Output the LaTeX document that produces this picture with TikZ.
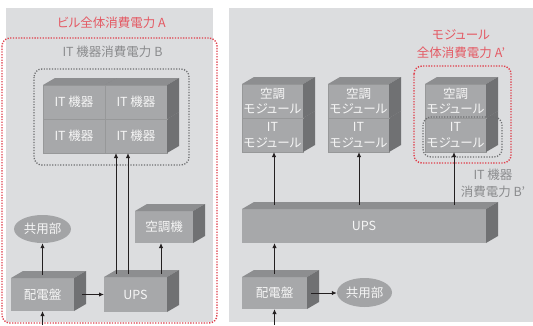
\documentclass[tikz,border=0pt]{standalone}
\usepackage{fontspec}
\setmainfont{Noto Sans CJK JP}[RawFeature=+palt]
\usetikzlibrary{arrows.meta,shapes.geometric}
\definecolor{panelc}{HTML}{DCDDDF}
\definecolor{frontc}{HTML}{A7A8AA}
\definecolor{topc}{HTML}{8D8E90}
\definecolor{sidec}{HTML}{707173}
\definecolor{ellc}{HTML}{A3A4A6}
\definecolor{sepc}{HTML}{979899}
\definecolor{boxtext}{HTML}{F6F6F6}
\definecolor{graytxt}{HTML}{8A8B8D}
\definecolor{redtxt}{HTML}{E45A64}
\definecolor{reddot}{HTML}{E0404C}
\definecolor{graydot}{HTML}{6E6F71}
\definecolor{arrowc}{HTML}{231F20}
\newcommand\cubefaces[1]{%
  \fill[topc] (#1.north west) -- ([shift={(12,-7)}]#1.north west) -- ([shift={(12,-7)}]#1.north east) -- (#1.north east) -- cycle;
  \fill[sidec] (#1.north east) -- ([shift={(12,-7)}]#1.north east) -- ([shift={(12,-7)}]#1.south east) -- (#1.south east) -- cycle;}
\tikzset{
  cube/.style={rectangle, fill=frontc, inner sep=0pt, outer sep=0pt, text=boxtext,
    font=\fontsize{12.5}{15.5}\selectfont, align=center},
  stacked/.style={draw=sepc, line width=0.4pt},
  blob/.style={ellipse, fill=ellc, inner sep=0pt, text=boxtext, font=\fontsize{12.5}{15}\selectfont},
  arr/.style={draw=arrowc, line width=1pt, -{Latex[length=5pt,width=4.5pt]}},
  reddots/.style={draw=reddot, line width=1.4pt, dash pattern=on 1.3pt off 1.4pt, rounded corners=8pt},
  graydots/.style={draw=graydot, line width=1.3pt, dash pattern=on 1.2pt off 1.5pt, rounded corners=8pt},
  redlabel/.style={text=redtxt, font=\fontsize{12.5}{18}\selectfont, align=center, inner sep=0pt},
  graylabel/.style={text=graytxt, font=\fontsize{12.5}{17}\selectfont, align=center, inner sep=0pt},
}
\begin{document}
\begin{tikzpicture}[x=1pt,y=-1pt]
\useasboundingbox (0,0) rectangle (533,325);
\fill[white] (0,0) rectangle (533,325);
% panels
\fill[panelc] (6,8) rectangle (213,322);
\fill[panelc] (229,8) rectangle (533,322);

% ---------- left panel ----------
\node[redlabel] (tA) at (111.5,23) {ビル全体消費電力 A};
\draw[reddots] (2,38) rectangle (217,323);
\node[graylabel] (tB) at (112.5,52) {IT 機器消費電力 B};
\draw[graydots] (34,69) rectangle (189,165);

% IT grid (bottom row first)
\node[cube, stacked, minimum width=62pt, minimum height=34pt] (it21) at (74,136) {IT 機器};
\cubefaces{it21}
\node[cube, stacked, minimum width=62pt, minimum height=34pt] (it22) at (136,136) {IT 機器};
\cubefaces{it22}
\node[cube, stacked, minimum width=62pt, minimum height=34pt] (it11) at (74,102) {IT 機器};
\cubefaces{it11}
\node[cube, stacked, minimum width=62pt, minimum height=34pt] (it12) at (136,102) {IT 機器};
\cubefaces{it12}

\node[blob, minimum width=57pt, minimum height=28pt] (kyL) at (42.5,229) {共用部};
\node[cube, minimum width=58pt, minimum height=32pt] (acL) at (164,227) {空調機};
\cubefaces{acL}
\node[cube, minimum width=63pt, minimum height=33pt] (hdL) at (42.5,294.5) {配電盤};
\cubefaces{hdL}
\node[cube, minimum width=63pt, minimum height=35pt] (upsL) at (135.5,294.5) {UPS};
\cubefaces{upsL}

\coordinate (inL) at (42.5,325);
\draw[arr] (inL) -- (hdL.south);
\draw[arr] ([yshift=3pt]hdL.north) -- (kyL.south);
\draw[arr] ([xshift=8pt]hdL.east) -- (upsL.west);
\coordinate (uac) at (161,274);
\draw[arr] (uac) -- (uac |- acL.south);
\coordinate (ua) at (116,274);
\draw[arr] (ua) -- (ua |- it22.south);
\coordinate (ub) at (128,274);
\draw[arr] (ub) -- (ub |- it22.south);

% ---------- right panel ----------
\node[redlabel] (tA2) at (461,44) {モジュール\\全体消費電力 A'};
\node[graylabel] (tB2) at (493,183.5) {IT 機器\\消費電力 B'};

\node[cube, stacked, minimum width=61pt, minimum height=34pt] (m1b) at (272.5,135) {IT\\モジュール};
\cubefaces{m1b}
\node[cube, stacked, minimum width=61pt, minimum height=34pt] (m1a) at (272.5,101) {空調\\モジュール};
\cubefaces{m1a}
\node[cube, stacked, minimum width=61pt, minimum height=34pt] (m2b) at (358.5,135) {IT\\モジュール};
\cubefaces{m2b}
\node[cube, stacked, minimum width=61pt, minimum height=34pt] (m2a) at (358.5,101) {空調\\モジュール};
\cubefaces{m2a}
\node[cube, stacked, minimum width=61pt, minimum height=34pt] (m3b) at (455.5,135) {IT\\モジュール};
\cubefaces{m3b}
\node[cube, stacked, minimum width=61pt, minimum height=34pt] (m3a) at (455.5,101) {空調\\モジュール};
\cubefaces{m3a}

\draw[reddots] (414,66) rectangle (511,163);
\draw[graydots] (423,117) rectangle (502,157);

\node[cube, minimum width=244pt, minimum height=34pt] (ups2) at (364,226) {UPS};
\cubefaces{ups2}
\node[cube, minimum width=65pt, minimum height=32pt] (hd2) at (274.5,293) {配電盤};
\cubefaces{hd2}
\node[blob, minimum width=55pt, minimum height=29pt] (ky2) at (364.5,292.5) {共用部};

\coordinate (u1) at (274,205);
\draw[arr] (u1) -- (u1 |- m1b.south);
\coordinate (u2) at (359,205);
\draw[arr] (u2) -- (u2 |- m2b.south);
\coordinate (u3) at (454,205);
\draw[arr] (u3) -- (u3 |- m3b.south);
\draw[arr] ([yshift=3pt]hd2.north) -- (hd2.north |- ups2.south);
\coordinate (in2) at (274.5,325);
\draw[arr] (in2) -- (hd2.south);
\draw[arr] ([xshift=4pt]hd2.east) -- (hd2.east -| ky2.west);
\end{tikzpicture}
\end{document}
